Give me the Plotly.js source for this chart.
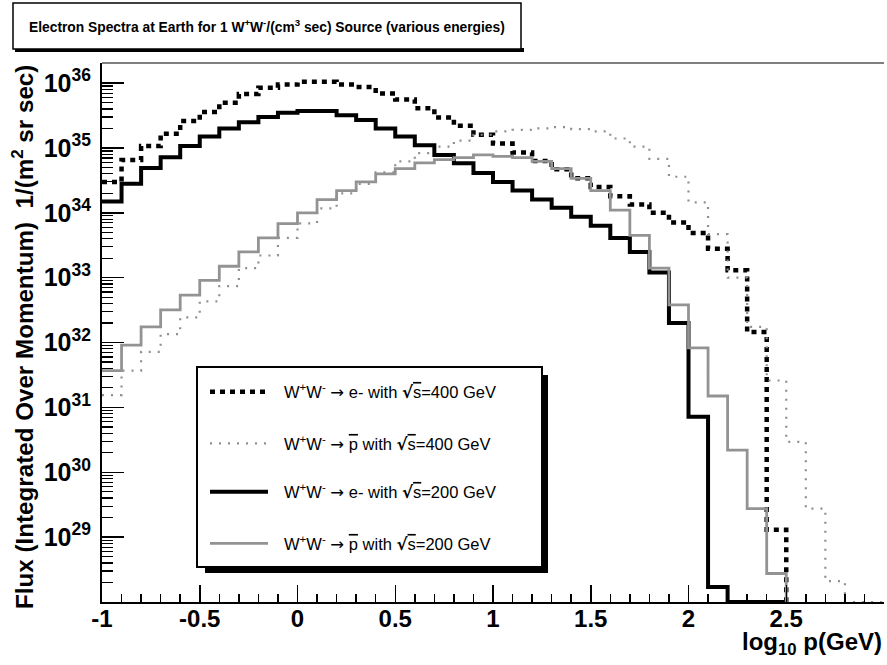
<!DOCTYPE html>
<html>
<head>
<meta charset="utf-8">
<script src="https://cdn.plot.ly/plotly-3.0.1.min.js"></script>
<style>
  html, body { margin: 0; padding: 0; background: #fff; }
  #chart { width: 887px; height: 665px; }
</style>
</head>
<body>
<div id="chart"></div>
<script>
// ---- Data ----
// Histogram bins: log10 p from -1 in steps of 0.1
const binLow = -1;
const binWidth = 0.1;

// W+W- -> e- with sqrt(s)=400 GeV  (bins -1.0 ... 2.5)
const eMinus400 = [3.0e34, 6.5e34, 1.07e35, 1.66e35, 2.6e35, 3.6e35, 5.0e35, 6.8e35, 8.5e35, 9.5e35,
  1.05e36, 1.05e36, 9.5e35, 8.7e35, 6.9e35, 5.6e35, 4.1e35, 2.95e35, 2.2e35, 1.6e35,
  1.17e35, 8.5e34, 6.3e34, 4.7e34, 3.4e34, 2.5e34, 1.8e34, 1.35e34, 1.0e34, 7.1e33,
  4.9e33, 2.8e33, 1.3e33, 1.45e32, 1.3e29];

// W+W- -> pbar with sqrt(s)=400 GeV  (bins -1.0 ... 3.0)
const pbar400 = [1.55e31, 3.7e31, 7.2e31, 1.35e32, 2.45e32, 4.3e32, 7.4e32, 1.4e33, 2.2e33, 4.1e33,
  6.9e33, 1.17e34, 2.0e34, 2.8e34, 4.2e34, 6.2e34, 8.3e34, 1.05e35, 1.3e35, 1.6e35,
  1.8e35, 1.9e35, 2.0e35, 2.1e35, 1.95e35, 1.8e35, 1.4e35, 1.05e35, 6.8e34, 3.6e34,
  1.45e34, 4.7e33, 1.0e33, 1.74e32, 2.6e31, 2.95e30, 2.75e29, 2.1e28, 0, 0];

// W+W- -> e- with sqrt(s)=200 GeV  (bins -1.0 ... 2.5)
const eMinus200 = [1.5e34, 2.8e34, 4.9e34, 7.2e34, 1.07e35, 1.5e35, 2.0e35, 2.5e35, 3.0e35, 3.5e35,
  3.7e35, 3.7e35, 3.2e35, 2.7e35, 2.0e35, 1.5e35, 1.1e35, 7.8e34, 5.8e34, 4.1e34,
  3.0e34, 2.2e34, 1.6e34, 1.2e34, 8.7e33, 6.3e33, 4.1e33, 2.5e33, 1.2e33, 2.0e32,
  7.2e30, 1.7e28, 0, 0, 0];

// W+W- -> pbar with sqrt(s)=200 GeV  (bins -1.0 ... 2.5)
const pbar200 = [3.7e31, 9.1e31, 1.74e32, 3.2e32, 5.4e32, 9.1e32, 1.5e33, 2.5e33, 4.1e33, 6.8e33,
  1.0e34, 1.6e34, 2.2e34, 3.0e34, 4.0e34, 4.8e34, 5.9e34, 6.6e34, 7.1e34, 7.8e34,
  7.4e34, 7.1e34, 6.2e34, 4.8e34, 3.4e34, 2.2e34, 1.1e34, 4.5e33, 1.4e33, 3.8e32,
  8.3e31, 1.5e31, 2.2e30, 2.75e29, 2.75e28];

const ARROW = "<span style=\"font-family:DejaVu Sans\">\u2192</span>";
const SQRTS = "<span style=\"font-family:DejaVu Sans;font-weight:bold\">\u221A</span><span style=\"text-decoration:overline\">s</span>";
const PBAR = "<span style=\"text-decoration:overline\">p</span>";
const seriesNames = [
  "W<sup>+</sup>W<sup>-</sup> " + ARROW + " e- with " + SQRTS + "=400 GeV",
  "W<sup>+</sup>W<sup>-</sup> " + ARROW + " " + PBAR + " with " + SQRTS + "=400 GeV",
  "W<sup>+</sup>W<sup>-</sup> " + ARROW + " e- with " + SQRTS + "=200 GeV",
  "W<sup>+</sup>W<sup>-</sup> " + ARROW + " " + PBAR + " with " + SQRTS + "=200 GeV"
];

const xTickVals = [-1, -0.5, 0, 0.5, 1, 1.5, 2, 2.5, 3];
const xTickText = ["-1", "-0.5", "0", "0.5", "1", "1.5", "2", "2.5", "3"];
const yTickExponents = [29, 30, 31, 32, 33, 34, 35, 36];

// ---- Geometry / style ----
const yFloorExp = 28;          // bottom of log axis (empty bins drawn here)
const yTopExp = 36.31;
const yFloor = Math.pow(10, yFloorExp);
const FONT = "Liberation Sans, Arial, Helvetica, sans-serif";

const M = { l: 102, r: 3, t: 63, b: 63 };
const W = 887, H = 665;
const PW = W - M.l - M.r, PH = H - M.t - M.b;
const px2x = px => (px - M.l) / PW;
const py2y = py => (H - M.b - py) / PH;

function stepTrace(vals, style) {
  const xs = [], ys = [];
  for (let i = 0; i < vals.length; i++) {
    xs.push(+(binLow + i * binWidth).toFixed(4));
    ys.push(vals[i] > 0 ? vals[i] : yFloor);
  }
  // close the last bin and drop to the frame bottom
  xs.push(+(binLow + vals.length * binWidth).toFixed(4));
  ys.push(yFloor);
  return { x: xs, y: ys, type: "scatter", mode: "lines", line: Object.assign({ shape: "hv" }, style), showlegend: false, hoverinfo: "skip" };
}

const styles = [
  { color: "#000000", width: 4.5, dash: "5px,5px" },
  { color: "#8f8f8f", width: 2.2, dash: "2px,7px" },
  { color: "#000000", width: 4 },
  { color: "#939393", width: 2.8 }
];

const traces = [
  stepTrace(eMinus400, styles[0]),
  stepTrace(pbar400, styles[1]),
  stepTrace(eMinus200, styles[2]),
  stepTrace(pbar200, styles[3])
];

const shapes = [];
const annotations = [];

// top frame line
shapes.push({ type: "line", xref: "paper", yref: "paper", x0: 0, x1: 1, y0: 1, y1: 1, line: { color: "#000", width: 1.2 } });

// title pave
shapes.push({ type: "rect", xref: "paper", yref: "paper", x0: px2x(15), x1: px2x(524), y0: py2y(48), y1: py2y(52), fillcolor: "#000", line: { width: 0 } });
shapes.push({ type: "rect", xref: "paper", yref: "paper", x0: px2x(13), x1: px2x(521), y0: py2y(3), y1: py2y(49), fillcolor: "#fff", line: { color: "#000", width: 1.5 } });
annotations.push({
  xref: "paper", yref: "paper", x: px2x(267), y: py2y(26), xanchor: "center", yanchor: "middle", showarrow: false,
  text: "Electron Spectra at Earth for 1 W<sup>+</sup>W<sup>-</sup>/(cm<sup>3</sup> sec) Source (various energies)",
  font: { family: FONT, size: 13.8, weight: "bold", color: "#000" }
});

// legend pave with shadow
shapes.push({ type: "rect", xref: "paper", yref: "paper", x0: px2x(205), x1: px2x(548), y0: py2y(573), y1: py2y(375), fillcolor: "#000", line: { width: 0 } });
shapes.push({ type: "rect", xref: "paper", yref: "paper", x0: px2x(197), x1: px2x(542), y0: py2y(567), y1: py2y(367), fillcolor: "#fff", line: { color: "#000", width: 2 } });
const legendRows = [391.7, 443.3, 491.7, 543.3];
legendRows.forEach((ry, i) => {
  shapes.push({ type: "line", xref: "paper", yref: "paper", x0: px2x(210), x1: px2x(268), y0: py2y(ry), y1: py2y(ry),
    line: { color: styles[i].color, width: styles[i].width, dash: styles[i].dash || "solid" } });
  annotations.push({ xref: "paper", yref: "paper", x: px2x(282), y: py2y(ry), xanchor: "left", yanchor: "middle", showarrow: false,
    text: seriesNames[i], font: { family: FONT, size: 16.5, color: "#000" } });
});

// axis titles
annotations.push({
  xref: "paper", yref: "paper", x: px2x(23), y: py2y(337), xanchor: "center", yanchor: "middle", showarrow: false, textangle: -90,
  text: "Flux (Integrated Over Momentum)  1/(m<sup>2</sup> sr sec)",
  font: { family: FONT, size: 24.2, weight: "bold", color: "#000" }
});
annotations.push({
  xref: "paper", yref: "paper", x: px2x(884), y: py2y(643), xanchor: "right", yanchor: "middle", showarrow: false,
  text: "log<sub>10</sub> p(GeV)",
  font: { family: FONT, size: 24, weight: "bold", color: "#000" }
});

const layout = {
  width: W, height: H,
  margin: M,
  paper_bgcolor: "#fff", plot_bgcolor: "#fff",
  showlegend: false,
  xaxis: {
    range: [-1, 3], showgrid: false, zeroline: false,
    showline: true, linecolor: "#000", linewidth: 2,
    ticks: "inside", ticklen: 17, tickwidth: 1.5, tickcolor: "#000",
    tickmode: "array", tickvals: xTickVals, ticktext: xTickText,
    ticklabelstandoff: -6,
    tickfont: { family: FONT, size: 24, weight: "bold", color: "#000" },
    minor: { ticks: "inside", ticklen: 8, tickwidth: 1.5, tickcolor: "#000", dtick: 0.1, tick0: -1, showgrid: false }
  },
  yaxis: {
    type: "log", range: [yFloorExp, yTopExp], showgrid: false, zeroline: false,
    showline: true, linecolor: "#000", linewidth: 2,
    ticks: "inside", ticklen: 22, tickwidth: 1.5, tickcolor: "#000",
    tickmode: "array",
    tickvals: yTickExponents.map(e => Math.pow(10, e)),
    ticktext: yTickExponents.map(e => "10<sup>" + e + "</sup>"),
    ticklabelstandoff: 4,
    tickfont: { family: FONT, size: 25, weight: "bold", color: "#000" },
    minor: { ticks: "inside", ticklen: 11, tickwidth: 1.2, tickcolor: "#000", dtick: "D1", showgrid: false }
  },
  shapes: shapes,
  annotations: annotations
};

Plotly.newPlot("chart", traces, layout, { staticPlot: true, displayModeBar: false });
</script>
</body>
</html>
